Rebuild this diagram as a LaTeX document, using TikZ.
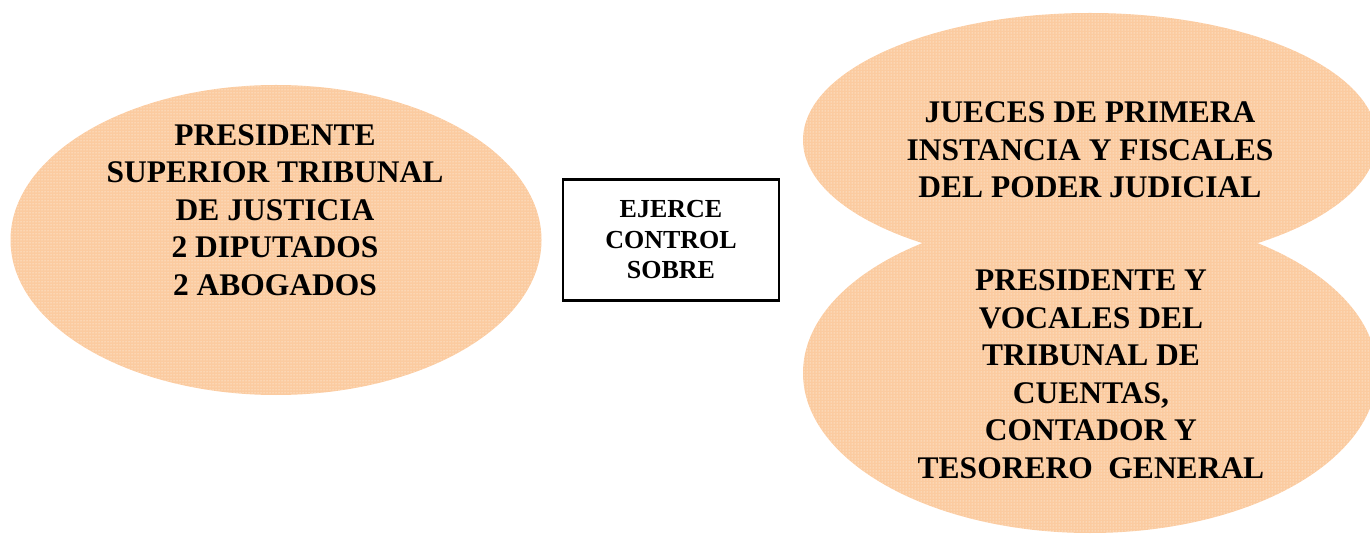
\documentclass[tikz,border=0pt]{standalone}
\usepackage{fontspec}
\setmainfont{Liberation Serif}
\usetikzlibrary{shapes.geometric,patterns}
\definecolor{peach}{RGB}{251,203,160}

\tikzset{
	blob/.style={ellipse, draw=none, fill=peach, inner sep=0pt,
		postaction={pattern=dots, pattern color=white}},
	bigtext/.style={align=center, font=\bfseries\fontsize{31.5}{37.5}\selectfont},
	ctrlbox/.style={rectangle, draw=black, line width=2.2pt, minimum width=216, minimum height=121,
		align=center, font=\bfseries\fontsize{26}{30.5}\selectfont}
}

\begin{document}
\begin{tikzpicture}[x=1pt, y=-1pt]
		%%%%% START %%%%%
		\useasboundingbox (0, 0) rectangle (1370, 534);
		
		\node[blob, minimum width=531, minimum height=310] (consejo) at (276, 240) {};
		\node[bigtext] (consejotxt) at (275, 210) {PRESIDENTE\\SUPERIOR TRIBUNAL\\DE JUSTICIA\\2 DIPUTADOS\\2 ABOGADOS};
		
		\node[ctrlbox] (ejerce) at (671, 240) {EJERCE\\CONTROL\\SOBRE};
		
		\node[blob, minimum width=574, minimum height=254] (jueces) at (1090, 140) {};
		\node[blob, minimum width=574, minimum height=320] (tribunal) at (1090, 373) {};
		
		\node[bigtext] (juecestxt) at (1090, 150) {JUECES DE PRIMERA\\INSTANCIA Y FISCALES\\DEL PODER JUDICIAL};
		\node[bigtext] (tribunaltxt) at (1091, 374) {PRESIDENTE Y\\VOCALES DEL\\TRIBUNAL DE\\CUENTAS,\\CONTADOR Y\\TESORERO~ GENERAL};
		
		%%%%% END %%%%%
	\end{tikzpicture}
\end{document}
